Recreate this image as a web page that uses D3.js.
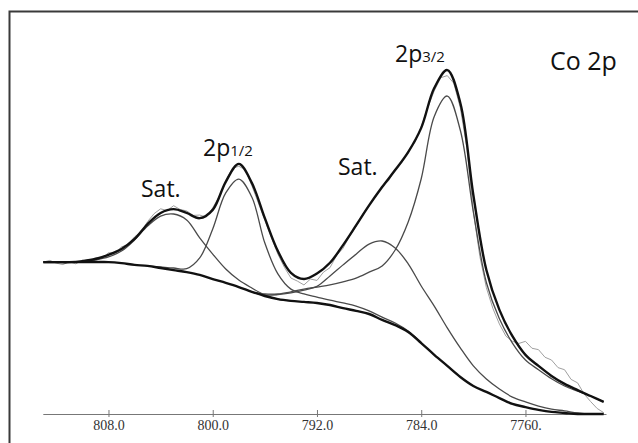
<!DOCTYPE html>
<html>
<head>
<meta charset="utf-8">
<script src="https://cdn.jsdelivr.net/npm/d3@7"></script>
<style>
  html, body { margin: 0; padding: 0; background: #fff; }
  svg { display: block; }
</style>
</head>
<body>
<div id="chart"></div>
<script>
// Co 2p XPS spectrum, binding energy (eV) vs intensity (arb. units)
const tickEnergies = [808, 800, 792, 784, 776];
const tickLabels = ['808.0', '800.0', '792.0', '784.0', '7760.'];

const bindingEnergy = [813, 812, 811, 810, 809, 808, 807, 806, 805, 804, 803, 802, 801, 800, 799,
  798, 797, 796, 795, 794, 793, 792, 791, 790, 789, 788, 787, 786, 785, 784, 783, 782, 781, 780,
  779, 778, 777, 776, 775, 774, 773, 772, 771, 770];

// Shirley background
const background = [43.9, 43.9, 43.9, 43.9, 43.9, 43.9, 43.6, 43.1, 42.8, 42.2, 41.6, 41.0, 40.2,
  39.0, 37.9, 36.7, 35.3, 34.1, 33.2, 32.7, 32.4, 32.1, 31.5, 30.6, 29.8, 28.9, 27.2, 25.7, 23.7,
  20.5, 17.1, 13.9, 10.7, 8.1, 6.4, 4.6, 2.9, 2.0, 1.2, 0.6, 0.3, 0, 0, 0];

// fitted envelope
const envelope = [43.9, 43.9, 43.9, 44.2, 44.8, 46.0, 47.7, 50.6, 54.9, 58.1, 59.2, 58.1, 56.6,
  59.0, 67.1, 72.3, 66.8, 56.6, 47.1, 40.8, 39.0, 40.6, 43.7, 48.8, 54.5, 60.3, 65.6, 70.5, 75.7,
  82.7, 94.2, 99.4, 89.9, 63.3, 41.6, 30.1, 22.5, 17.1, 13.9, 11.0, 8.7, 6.9, 5.2, 3.5];

// fitted components (drawn on top of background): [BE, intensity]
const sat1Peak = [[811, 43.9], [810, 43.9], [809, 44.5], [808, 45.4], [807, 47.1], [806, 50.3],
  [805, 54.3], [804, 57.2], [803, 57.8], [802, 56.1], [801, 50.9], [800, 46.2], [799, 41.9],
  [798, 38.7], [797, 36.4], [796, 34.4], [795, 33.2], [794, 32.7]];

const p12Peak = [[805, 42.8], [804, 42.5], [803, 42.2], [802, 42.0], [801, 45.1], [800, 53.5],
  [799, 63.9], [798, 67.9], [797, 62.7], [796, 49.4], [795, 40.5], [794, 36.1], [793, 34.7],
  [792, 33.8], [791, 32.9], [790, 32.1], [789, 31.2], [788, 29.8], [787, 28.0], [786, 26.3],
  [785, 24.0], [784, 20.7]];

const sat2Peak = [[797, 35.3], [796, 34.4], [795, 34.5], [794, 35.0], [793, 35.8], [792, 36.9],
  [791, 39.9], [790, 43.1], [789, 46.2], [788, 49.1], [787, 50.0], [786, 48.0], [785, 43.4],
  [784, 37.0], [783, 31.2], [782, 24.9], [781, 19.1], [780, 13.9], [779, 10.1], [778, 7.2],
  [777, 4.9], [776, 3.5], [775, 2.3], [774, 1.4], [773, 0.9], [772, 0.3], [771, 0], [770, 0]];

const p32Peak = [[797, 35.3], [796, 34.7], [795, 34.7], [794, 35.3], [793, 36.1], [792, 36.7],
  [791, 37.3], [790, 38.2], [789, 39.3], [788, 41.0], [787, 42.8], [786, 47.4], [785, 55.5],
  [784, 68.0], [783, 86.0], [782, 91.9], [781, 82.0], [780, 58.4], [779, 38.0], [778, 27.5],
  [777, 20.5], [776, 15.6], [775, 12.8], [774, 10.2], [773, 8.1], [772, 6.6], [771, 5.2], [770, 3.5]];

// measured spectrum
const rawData = [[813.0, 43.9], [812.5, 44.4], [812.0, 43.6], [811.5, 43.2], [811.0, 44.0],
  [810.5, 43.4], [810.0, 44.5], [809.5, 44.1], [809.0, 45.2], [808.5, 45.0], [808.0, 46.6],
  [807.5, 46.5], [807.0, 48.3], [806.5, 49.0], [806.0, 51.2], [805.5, 52.6], [805.0, 55.6],
  [804.5, 57.9], [804.0, 59.3], [803.5, 58.8], [803.0, 60.2], [802.5, 59.1], [802.0, 58.7],
  [801.5, 57.4], [801.0, 57.5], [800.5, 56.9], [800.0, 59.6], [799.5, 62.9], [799.0, 67.5],
  [798.5, 71.0], [798.0, 71.6], [797.5, 70.6], [797.0, 66.0], [796.5, 61.0], [796.0, 56.0],
  [795.5, 51.0], [795.0, 46.2], [794.5, 42.4], [794.0, 39.3], [793.5, 38.4], [793.0, 37.3],
  [792.5, 39.0], [792.0, 38.6], [791.5, 41.0], [791.0, 42.3], [790.5, 45.8], [790.0, 47.9],
  [789.5, 51.4], [789.0, 54.2], [788.5, 57.8], [788.0, 60.3], [787.5, 62.8], [787.0, 65.9],
  [786.5, 67.4], [786.0, 70.9], [785.5, 72.6], [785.0, 76.0], [784.5, 78.4], [784.0, 83.0],
  [783.5, 88.6], [783.0, 93.4], [782.5, 97.2], [782.0, 97.8], [781.5, 95.6], [781.0, 88.5],
  [780.5, 77.0], [780.0, 58.5], [779.5, 45.5], [779.0, 36.5], [778.5, 30.5], [778.0, 26.0],
  [777.5, 22.5], [777.0, 21.0], [776.5, 20.4], [776.0, 21.0], [775.5, 19.0], [775.0, 18.6],
  [774.5, 16.4], [774.0, 15.6], [773.5, 13.4], [773.0, 12.8], [772.5, 10.0], [772.0, 9.0],
  [771.5, 5.8], [771.0, 3.6], [770.5, 1.6], [770.0, 0.4]];

const width = 638;
const height = 443;

const svg = d3
  .select('#chart')
  .append('svg')
  .attr('width', width)
  .attr('height', height)
  .style('background', '#fff');

const x = d3.scaleLinear().domain([813.04, 769.82]).range([42.8, 606]);
const y = d3.scaleLinear().domain([0, 100]).range([414, 68]);

// frame (top and left only)
svg.append('path')
  .attr('d', `M9.5,${height} V11.5 H${width}`)
  .style('fill', 'none')
  .style('stroke', '#3a3a3a')
  .style('stroke-width', '2px');

// x axis
const xAxis = d3.axisBottom(x)
  .tickValues(tickEnergies)
  .tickFormat((d, i) => tickLabels[i])
  .tickSizeOuter(0)
  .tickSizeInner(3);

const gx = svg.append('g')
  .attr('transform', `translate(0,${y(0)})`)
  .call(xAxis);

gx.select('.domain').style('stroke', '#777').style('stroke-width', '1px');
gx.selectAll('.tick line').attr('y1', -4).attr('y2', 3).style('stroke', '#777');
gx.selectAll('.tick text')
  .attr('y', 6)
  .style('font-family', '"Liberation Serif", "Times New Roman", serif')
  .style('font-size', '14px')
  .style('fill', '#333');

const pairLine = d3.line()
  .x((d) => x(d[0]))
  .y((d) => y(d[1]))
  .curve(d3.curveCatmullRom.alpha(0.5));

const rawLine = d3.line()
  .x((d) => x(d[0]))
  .y((d) => y(d[1]));

const zip = (vals) => bindingEnergy.map((e, i) => [e, vals[i]]);

// raw spectrum
svg.append('path')
  .datum(rawData)
  .attr('d', rawLine)
  .style('fill', 'none')
  .style('stroke', '#a0a0a0')
  .style('stroke-width', '1px');

// components
[sat1Peak, p12Peak, sat2Peak, p32Peak].forEach((comp) => {
  svg.append('path')
    .datum(comp)
    .attr('d', pairLine)
    .style('fill', 'none')
    .style('stroke', '#4a4a4a')
    .style('stroke-width', '1.3px');
});

// background and envelope
[background, envelope].forEach((vals) => {
  svg.append('path')
    .datum(zip(vals))
    .attr('d', pairLine)
    .style('fill', 'none')
    .style('stroke', '#111')
    .style('stroke-width', '2.4px');
});

// peak labels
const labelFont = '"Open Sans", "Noto Sans", sans-serif';
const labels = [
  { main: 'Sat.', sub: '', x: 141, y: 197 },
  { main: '2p', sub: '1/2', x: 203, y: 156 },
  { main: 'Sat.', sub: '', x: 338, y: 175 },
  { main: '2p', sub: '3/2', x: 395, y: 62 }
];

labels.forEach((l) => {
  const t = svg.append('text')
    .attr('x', l.x)
    .attr('y', l.y)
    .style('font-family', labelFont)
    .style('font-size', '23px')
    .style('fill', '#111');
  t.append('tspan').text(l.main);
  if (l.sub) {
    t.append('tspan').text(l.sub).style('font-size', '15px');
  }
});

svg.append('text')
  .attr('x', 550)
  .attr('y', 70)
  .text('Co 2p')
  .style('font-family', labelFont)
  .style('font-size', '25px')
  .style('fill', '#111');
</script>
</body>
</html>
